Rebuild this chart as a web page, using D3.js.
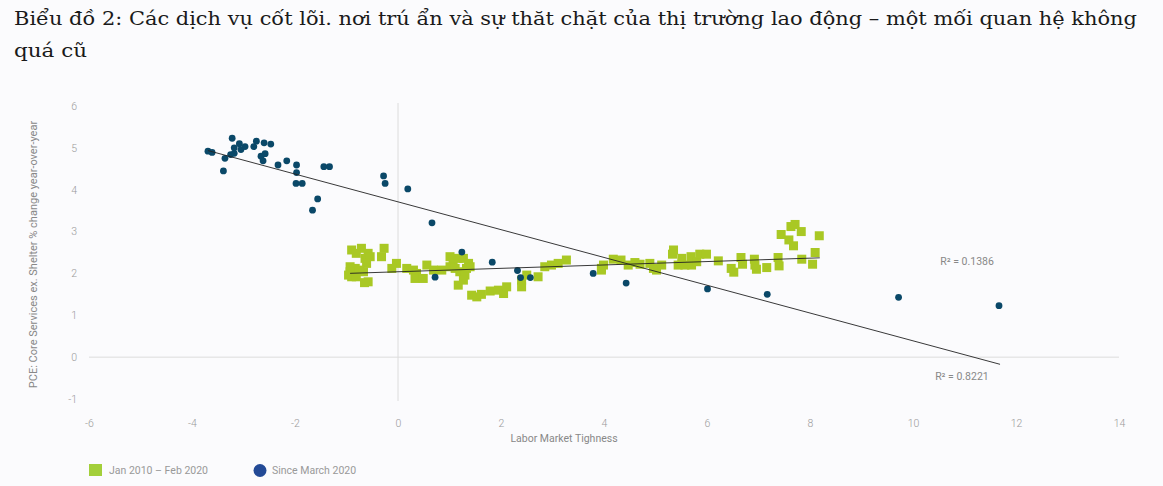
<!DOCTYPE html>
<html><head><meta charset="utf-8">
<script src="https://cdn.jsdelivr.net/npm/d3@7"></script>
<style>
html,body{margin:0;padding:0;background:#fbfbfd;}
svg{display:block;}
</style></head>
<body>
<script>
// ---- Data ----
const titleLines = ["Biểu đồ 2: Các dịch vụ cốt lõi. nơi trú ẩn và sự thăt chặt của thị trường lao động – một mối quan hệ không", "quá cũ"];
const xTicks = [-6,-4,-2,0,2,4,6,8,10,12,14];
const yTicks = [-1,0,1,2,3,4,5,6];
const seriesNames = ["Jan 2010 – Feb 2020", "Since March 2020"];
const xLabel = "Labor Market Tighness";
const yLabel = "PCE: Core Services ex. Shelter % change year-over-year";

const greenX = [-0.90,-0.71,-0.81,-0.58,-0.27,-0.32,-0.64,-0.54,-0.61,-0.93,-0.83,-0.93,-0.90,-0.74,-0.67,-0.58,-0.65,-0.96,-0.81,
  -0.03,-0.12,0.17,0.30,0.36,0.33,0.49,0.56,0.69,0.85,
  1.01,1.07,1.17,1.27,1.01,1.11,1.37,1.40,1.20,1.30,1.27,1.17,1.33,
  1.43,1.53,1.62,1.79,1.95,2.05,2.11,
  2.40,2.40,2.50,2.72,2.85,2.98,3.11,3.27,3.95,
  3.99,3.95,4.18,4.33,4.47,4.60,4.70,4.89,4.96,5.02,5.12,5.35,5.33,5.51,5.44,5.57,5.69,5.70,5.80,5.86,5.99,
  6.22,6.47,6.52,6.66,6.69,6.92,6.93,6.96,7.16,7.38,7.40,7.44,7.59,7.63,7.71,7.83,7.68,7.84,8.05,8.10,8.18];
const greenY = [2.56,2.60,2.48,2.48,2.60,2.40,2.36,2.40,2.24,2.16,2.12,2.04,1.92,2.08,2.04,1.80,1.78,1.96,1.92,
  2.24,2.12,2.12,2.08,2.00,1.88,1.88,2.20,2.08,2.08,
  2.40,2.32,2.36,2.36,2.16,2.12,2.24,2.16,2.04,1.96,1.84,1.72,2.12,
  1.48,1.44,1.50,1.58,1.60,1.52,1.68,
  1.68,1.84,1.96,1.92,2.16,2.20,2.24,2.32,2.12,
  2.20,2.08,2.34,2.32,2.20,2.26,2.22,2.24,2.12,2.08,2.20,2.56,2.46,2.36,2.20,2.20,2.40,2.20,2.28,2.46,2.46,
  2.30,2.12,2.03,2.38,2.22,2.34,2.20,2.10,2.14,2.38,2.18,2.93,2.80,3.12,3.17,3.00,2.66,2.34,2.22,2.50,2.90];

const blueX = [-3.69,-3.61,-3.22,-3.36,-3.39,-3.18,-3.25,-3.18,-3.08,-3.05,-2.97,-2.80,-2.75,-2.60,-2.47,-2.66,-2.58,-2.62,
  -2.33,-2.16,-1.97,-1.97,-1.98,-1.86,-1.44,-1.33,-1.56,-1.66,
  -0.28,-0.25,0.19,0.66,1.24,0.72,1.83,2.32,2.38,2.57,3.79,4.43,6.01,7.17,9.72,11.67];
const blueY = [4.92,4.89,5.23,4.75,4.45,5.00,4.84,4.87,5.10,4.96,5.03,5.03,5.16,5.12,5.09,4.80,4.86,4.69,
  4.59,4.69,4.59,4.41,4.15,4.15,4.55,4.55,3.78,3.51,
  4.33,4.15,4.02,3.21,2.51,1.91,2.27,2.07,1.90,1.90,2.00,1.77,1.63,1.50,1.43,1.23];

// trend lines: [intercept, slope, xStart, xEnd]
const trendGreen = [2.04, 0.0406, -0.93, 8.19];
const trendBlue  = [3.71, -0.332, -3.69, 11.69];
const r2Labels = ["R² = 0.1386", "R² = 0.8221"];
const r2Pos = [[11.05, 2.28], [10.95, -0.45]];

// ---- Drawing ----
const W = 1163, H = 486;
const svg = d3.select("body").append("svg").attr("width", W).attr("height", H);
const green = "#a9c824", blue = "#0a4868";

const x = d3.scaleLinear().domain([-6,14]).range([89,1119]);
const y = d3.scaleLinear().domain([-1,6]).range([399,106]);

// Title
const tfont = "'DejaVu Serif', serif";
svg.append("text").attr("x",14).attr("y",25).attr("font-family",tfont).attr("font-size",19)
  .attr("fill","#1a1a1a").attr("textLength",1123).attr("lengthAdjust","spacingAndGlyphs").text(titleLines[0]);
svg.append("text").attr("x",14).attr("y",57).attr("font-family",tfont).attr("font-size",19)
  .attr("fill","#1a1a1a").attr("textLength",73).attr("lengthAdjust","spacingAndGlyphs").text(titleLines[1]);

const sans = "Roboto, 'Noto Sans', sans-serif";
// Zero lines
svg.append("line").attr("x1",x(-6)).attr("x2",x(14)).attr("y1",y(0)).attr("y2",y(0))
  .attr("stroke","#dcdcdc").attr("stroke-width",1);
svg.append("line").attr("x1",x(0)).attr("x2",x(0)).attr("y1",y(6)-3).attr("y2",y(-1)+2)
  .attr("stroke","#dcdcdc").attr("stroke-width",1);

// Axes (labels only)
const fmt = d => String(d);
const gx = svg.append("g").attr("transform",`translate(0,${y(-1)+18})`)
  .call(d3.axisBottom(x).tickValues(xTicks).tickSize(0).tickFormat(fmt));
const gy = svg.append("g").attr("transform",`translate(${x(-6)-9},0)`)
  .call(d3.axisLeft(y).tickValues(yTicks).tickSize(0).tickFormat(fmt));
[gx,gy].forEach(g=>{
  g.select(".domain").remove();
  g.selectAll("text").attr("fill","#9a9a9a").attr("font-family",sans).attr("font-size",10.5).attr("font-weight",300);
});
gx.selectAll("text").attr("dy","0.71em");

svg.append("text").attr("x",564).attr("y",442).attr("text-anchor","middle")
  .attr("font-family",sans).attr("font-size",10.5).attr("fill","#888").text(xLabel);
svg.append("text").attr("transform",`translate(37,${(y(6)+y(-1))/2+2}) rotate(-90)`).attr("text-anchor","middle")
  .attr("font-family",sans).attr("font-size",11).attr("fill","#888").text(yLabel);

// Green squares
const gdata = greenX.map((v,i)=>[v,greenY[i]]);
const sq = 9;
svg.append("g").selectAll("rect").data(gdata).join("rect")
  .attr("x",d=>x(d[0])-sq/2).attr("y",d=>y(d[1])-sq/2).attr("width",sq).attr("height",sq)
  .attr("fill",green);

// Blue dots
const bdata = blueX.map((v,i)=>[v,blueY[i]]);
svg.append("g").selectAll("circle").data(bdata).join("circle")
  .attr("cx",d=>x(d[0])).attr("cy",d=>y(d[1])).attr("r",3.4).attr("fill",blue);

// Trend lines
[trendGreen, trendBlue].forEach(t=>{
  svg.append("line").attr("x1",x(t[2])).attr("y1",y(t[0]+t[1]*t[2]))
    .attr("x2",x(t[3])).attr("y2",y(t[0]+t[1]*t[3]))
    .attr("stroke","#222").attr("stroke-width",0.9);
});

// R2 labels
r2Labels.forEach((s,i)=>{
  svg.append("text").attr("x",x(r2Pos[i][0])).attr("y",y(r2Pos[i][1])).attr("text-anchor","middle")
    .attr("dy","0.35em").attr("font-family",sans).attr("font-size",10.5).attr("fill","#888").text(s);
});

// Legend
svg.append("rect").attr("x",89).attr("y",464).attr("width",13).attr("height",12).attr("fill","#a3cf3a");
svg.append("text").attr("x",109).attr("y",474).attr("font-family",sans).attr("font-size",10.5)
  .attr("fill","#999").text(seriesNames[0]);
svg.append("circle").attr("cx",260).attr("cy",470.5).attr("r",6.5).attr("fill","#234a96");
svg.append("text").attr("x",272).attr("y",474).attr("font-family",sans).attr("font-size",10.5)
  .attr("fill","#999").text(seriesNames[1]);
</script>
</body></html>
